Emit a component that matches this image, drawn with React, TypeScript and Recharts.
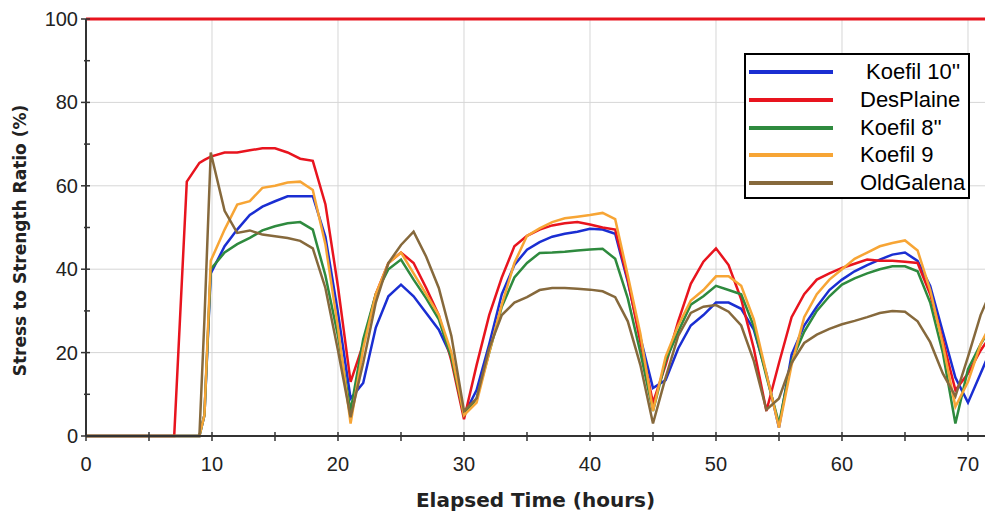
import React from "react";
import { LineChart, Line, XAxis, YAxis, ReferenceLine } from "recharts";

// elapsed time (hours)
const TIME = [
  0, 7, 8, 9, 9.4, 9.9,
  11, 12, 13, 14, 15, 16, 17, 18, 19, 20, 21, 22, 23, 24, 25, 26, 27, 28, 29, 30,
  31, 32, 33, 34, 35, 36, 37, 38, 39, 40, 41, 42, 43, 44, 45, 46, 47, 48, 49, 50,
  51, 52, 53, 54, 55, 56, 57, 58, 59, 60, 61, 62, 63, 64, 65, 66, 67, 68, 69, 70,
  71, 72,
];

const KOEFIL_10 = [
  0, 0, 0, 0, 5, 39,
  45.5, 49.5, 53, 55, 56.3, 57.5, 57.5, 57.5, 47.8, 29.5, 9, 12.7, 26, 33.5, 36.3, 33.5, 29.5, 25.5, 19, 5,
  11, 22, 34, 41, 44.7, 46.5, 47.8, 48.5, 49, 49.7, 49.5, 48.5, 37, 23.6, 11.5, 13.4, 21, 26.5, 29, 32,
  32, 30.5, 25.5, 15, 2, 19.5, 26.5, 31, 35, 37.5, 39.5, 41, 42.3, 43.5, 44, 42, 36, 25, 14, 8,
  15, 22,
];

const DES_PLAINE = [
  0, 0, 61, 65.5, 66.2, 67,
  68, 68, 68.5, 69, 69, 68, 66.5, 66, 55.6, 35.8, 13, 22, 34, 41.5, 44, 41.5, 35.5, 29, 18, 4,
  17, 29, 38, 45.5, 48, 49.5, 50.5, 51, 51.3, 50.7, 50, 49.5, 37.5, 22.5, 8, 17, 27.5, 36.5, 41.8, 45,
  41, 32.8, 21, 6, 17.5, 28.5, 34, 37.5, 39, 40.3, 41.3, 42.3, 42, 42, 41.8, 41.5, 34, 23, 11, 15,
  20.5, 25,
];

const KOEFIL_8 = [
  0, 0, 0, 0, 5, 40,
  44, 46, 47.5, 49.3, 50.3, 51, 51.3, 49.5, 38.5, 24, 6, 23.2, 34, 40, 42.3, 37.5, 33, 28, 18.7, 5,
  9, 20, 31, 38, 41.5, 43.9, 44, 44.2, 44.5, 44.7, 44.9, 42.5, 33, 20, 6, 18, 25, 31.5, 33.5, 36,
  35, 34, 26.3, 14.3, 3, 18, 25, 30, 33.5, 36.3, 37.8, 39, 40, 40.7, 40.7, 39.5, 32, 20, 3, 16,
  22, 27,
];

const KOEFIL_9 = [
  0, 0, 0, 0, 5, 42,
  49.5, 55.5, 56.3, 59.5, 60, 60.8, 61, 59, 46, 26, 3, 21, 34, 41.5, 44, 39, 34, 29, 20, 5,
  8, 20, 31.5, 41.5, 48, 49.8, 51.3, 52.2, 52.6, 53, 53.5, 52, 38.5, 24.5, 6, 19, 26.5, 32.5, 35, 38.3,
  38.3, 36, 28, 15, 2, 17, 28.5, 34, 37.5, 40, 42.5, 44, 45.5, 46.3, 46.9, 44.5, 35, 22, 7, 13,
  22, 28,
];

const OLD_GALENA = [
  0, 0, 0, 0, 28, 68,
  54, 48.7, 49.3, 48.3, 47.9, 47.5, 46.8, 45, 35.5, 20.5, 4.5, 17.5, 32, 41.5, 45.8, 49, 43, 35.5, 24, 6,
  9, 21, 29, 32, 33.3, 35, 35.5, 35.5, 35.3, 35.1, 34.7, 33.3, 27.5, 17, 3, 14, 24, 29.5, 31, 31.4,
  29.8, 26.5, 18, 6.3, 9, 17.5, 22.3, 24.3, 25.7, 26.8, 27.6, 28.5, 29.5, 30, 29.8, 27.5, 22.5, 15, 9.5, 19,
  29, 36,
];

const X_TICKS = [0, 5, 10, 15, 20, 25, 30, 35, 40, 45, 50, 55, 60, 65, 70];
const Y_TICKS = [0, 10, 20, 30, 40, 50, 60, 70, 80, 90, 100];
const GRID_X = [10, 20, 30, 40, 50, 60, 70];
const GRID_Y = [20, 40, 60, 80];
const LIMIT = 100;

const SERIES = [
  { key: "k10", name: " Koefil 10''", color: "#1a2ed2", values: KOEFIL_10 },
  { key: "des", name: "DesPlaine", color: "#e8141e", values: DES_PLAINE },
  { key: "k8", name: "Koefil 8''", color: "#2e8a3e", values: KOEFIL_8 },
  { key: "k9", name: "Koefil 9", color: "#f7a535", values: KOEFIL_9 },
  { key: "old", name: "OldGalena", color: "#86693c", values: OLD_GALENA },
];

const data = TIME.map((t, i) => {
  const row: Record<string, number> = { t };
  SERIES.forEach((s) => (row[s.key] = s.values[i]));
  return row;
});

const FONT = "'Liberation Sans', Arial, sans-serif";
const AXIS = "#333";

function XTick({ x, y, payload }: any) {
  const major = payload.value % 10 === 0;
  return (
    <g>
      <line x1={x} x2={x} y1={y - 4} y2={y + 5} stroke={AXIS} strokeWidth={1.5} />
      {major && (
        <text x={x} y={y + 35} textAnchor="middle" fontSize={20} fontFamily={FONT} fill="#222">
          {payload.value}
        </text>
      )}
    </g>
  );
}

function YTick({ x, y, payload }: any) {
  const major = payload.value % 20 === 0;
  return (
    <g>
      <line x1={major ? x - 5 : x - 2} x2={x + 4} y1={y} y2={y} stroke={AXIS} strokeWidth={1.5} />
      {major && (
        <text x={x - 8} y={y + 7} textAnchor="end" fontSize={20} fontFamily={FONT} fill="#222">
          {payload.value}
        </text>
      )}
    </g>
  );
}

function YTitle({ viewBox }: any) {
  const cx = viewBox.x + 20;
  const cy = viewBox.y + viewBox.height / 2 + 13;
  return (
    <text
      x={cx}
      y={cy}
      transform={`rotate(-90 ${cx} ${cy})`}
      textAnchor="middle"
      dominantBaseline="central"
      fontSize={17}
      fontWeight="bold"
      fontFamily="'DejaVu Sans', Verdana, sans-serif"
      fill="#222"
    >
      Stress to Strength Ratio (%)
    </text>
  );
}

function ChartLegend() {
  return (
    <div
      style={{
        position: "absolute",
        left: 744,
        top: 53,
        width: 222,
        height: 142,
        border: "2px solid #000",
        background: "#fff",
        fontFamily: FONT,
        fontSize: 22,
        color: "#000",
      }}
    >
      {SERIES.map((s, i) => (
        <div
          key={s.key}
          style={{ position: "absolute", left: 0, top: 3 + i * 27.75, height: 28, width: "100%" }}
        >
          <div
            style={{ position: "absolute", left: 3, top: 12, width: 84, height: 4, background: s.color }}
          />
          <span style={{ position: "absolute", left: 114, top: 0, lineHeight: "28px", whiteSpace: "pre" }}>
            {s.name}
          </span>
        </div>
      ))}
    </div>
  );
}

export default function App() {
  return (
    <div style={{ position: "absolute", left: 0, top: 0, width: 985, height: 512, background: "#fff", overflow: "hidden" }}>
      <LineChart width={985} height={512} data={data} margin={{ top: 19, right: 0, bottom: 0, left: 0 }}>
        {GRID_X.map((v) => (
          <ReferenceLine key={"gx" + v} x={v} stroke="#d6d6d6" strokeWidth={1} />
        ))}
        {GRID_Y.map((v) => (
          <ReferenceLine key={"gy" + v} y={v} stroke="#d6d6d6" strokeWidth={1} />
        ))}
        <XAxis
          dataKey="t"
          type="number"
          domain={[0, 71.35]}
          allowDataOverflow
          ticks={X_TICKS}
          interval={0}
          height={76}
          tickSize={0}
          tickMargin={0}
          tickLine={false}
          axisLine={{ stroke: AXIS, strokeWidth: 2 }}
          tick={<XTick />}
          label={{
            value: "Elapsed Time (hours)",
            position: "insideBottom",
            offset: 5,
            style: { fontSize: 20, fontWeight: "bold", fontFamily: "'DejaVu Sans', Verdana, sans-serif", fill: "#222" },
          }}
        />
        <YAxis
          type="number"
          domain={[0, 100]}
          ticks={Y_TICKS}
          interval={0}
          width={86}
          tickSize={0}
          tickMargin={0}
          tickLine={false}
          axisLine={{ stroke: AXIS, strokeWidth: 2 }}
          tick={<YTick />}
          label={{ content: <YTitle /> }}
        />
        {SERIES.map((s) => (
          <Line
            key={s.key}
            dataKey={s.key}
            name={s.name}
            type="linear"
            stroke={s.color}
            strokeWidth={2.5}
            dot={false}
            isAnimationActive={false}
          />
        ))}
        <ReferenceLine y={LIMIT} stroke="#e8141e" strokeWidth={3} />
      </LineChart>
      <ChartLegend />
    </div>
  );
}
